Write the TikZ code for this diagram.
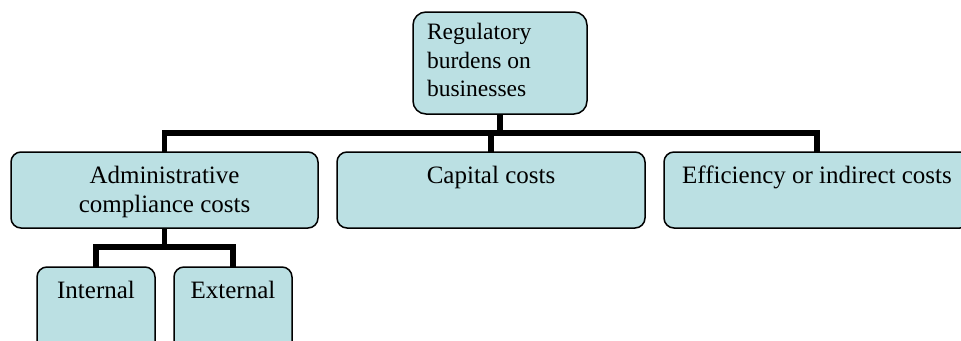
\documentclass[tikz,border=0pt]{standalone}
\usepackage{fontspec}
\setmainfont{Liberation Serif}
\definecolor{boxfill}{RGB}{187,224,227}
\begin{document}
\begin{tikzpicture}[x=1pt,y=-1pt,
  box/.style={draw=black, fill=boxfill, line width=1.5pt, rounded corners=10pt,
    inner sep=0pt, outer sep=0pt, anchor=north west},
  lbl/.style={inner sep=0pt, outer sep=0pt, align=center,
    font=\fontsize{25}{29}\selectfont},
  toplbl/.style={inner sep=0pt, outer sep=0pt, align=left,
    font=\fontsize{23.5}{28.5}\selectfont},
  conn/.style={line width=5.5pt, line join=miter}]
\useasboundingbox (0,0) rectangle (961,340);
\clip (0,0) rectangle (961,340);

% boxes
\node[box, rounded corners=13pt, minimum width=174pt, minimum height=102pt] (top) at (413,12) {};
\node[box, minimum width=307pt, minimum height=76pt] (adm) at (11,152) {};
\node[box, minimum width=308pt, minimum height=76pt] (cap) at (337,152) {};
\node[box, minimum width=306pt, minimum height=76pt] (eff) at (664,152) {};
\node[box, minimum width=118pt, minimum height=93pt] (int) at (37,267) {};
\node[box, minimum width=118pt, minimum height=93pt] (ext) at (174,267) {};

% labels
\node[toplbl, anchor=north west] (toptxt) at (427,20) {\strut Regulatory\\burdens on\\businesses};
\node[lbl, anchor=north] (admtxt) at ([yshift=-10.7pt]adm.north) {\strut Administrative\\compliance costs};
\node[lbl, anchor=north] (captxt) at ([yshift=-10.7pt]cap.north) {\strut Capital costs};
\node[lbl, anchor=north] (efftxt) at ([yshift=-10.7pt]eff.north) {\strut Efficiency or indirect costs};
\node[lbl, anchor=north] (inttxt) at ([yshift=-10.7pt]int.north) {\strut Internal};
\node[lbl, anchor=north] (exttxt) at ([yshift=-10.7pt]ext.north) {\strut External};

% connectors
\draw[conn] (top.south) -- ++(0,19);
\draw[conn] (adm.north) -- ++(0,-19) -| (eff.north);
\draw[conn] (cap.north) -- ++(0,-19);
\draw[conn] (adm.south) -- ++(0,19);
\draw[conn] (int.north) -- ++(0,-20) -| (ext.north);
\end{tikzpicture}
\end{document}
